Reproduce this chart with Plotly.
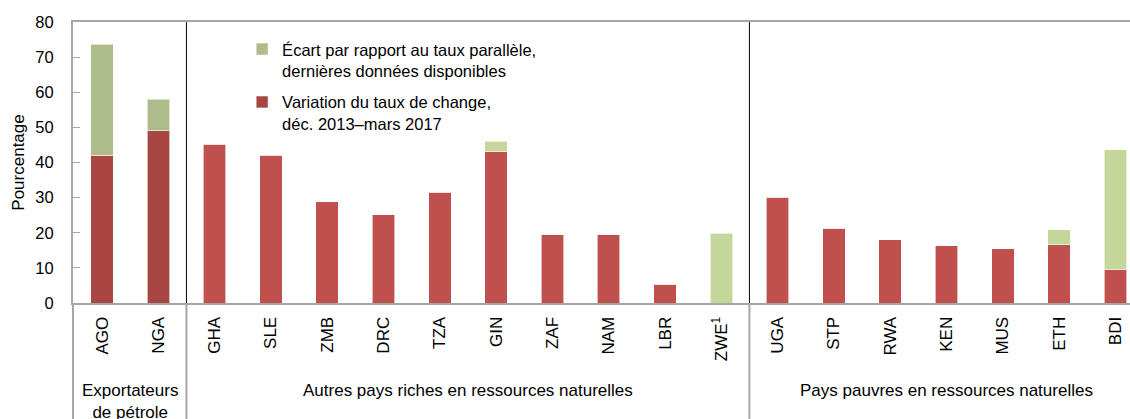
import plotly.graph_objects as go

categories = ["AGO", "NGA", "GHA", "SLE", "ZMB", "DRC", "TZA", "GIN", "ZAF", "NAM",
              "LBR", "ZWE<sup>1</sup>", "UGA", "STP", "RWA", "KEN", "MUS", "ETH", "BDI"]
variation = [42.0, 49.0, 45.2, 42.0, 28.8, 25.1, 31.6, 43.0, 19.4, 19.4,
             5.3, 0.0, 30.1, 21.3, 18.0, 16.3, 15.4, 16.6, 9.6]
ecart = [31.6, 9.0, 0, 0, 0, 0, 0, 3.1, 0, 0,
         0, 19.9, 0, 0, 0, 0, 0, 4.3, 34.0]
groups = ["Exportateurs<br>de pétrole",
          "Autres pays riches en ressources naturelles",
          "Pays pauvres en ressources naturelles"]
group_sizes = [2, 10, 7]
y_ticks = [0, 10, 20, 30, 40, 50, 60, 70, 80]

FONT = "Liberation Sans, Arial, sans-serif"
FS = 16.5
red_oil, green_oil = "#A84643", "#ADBC8A"
red_other, green_other = "#C0504D", "#C4D79B"

n_oil = group_sizes[0]
red_colors = [red_oil if i < n_oil else red_other for i in range(len(categories))]
green_colors = [green_oil if i < n_oil else green_other for i in range(len(categories))]

fig = go.Figure()
fig.add_trace(go.Bar(
    x=categories, y=variation, name="Variation du taux de change,<br>déc. 2013–mars 2017",
    marker=dict(color=red_colors, line=dict(color="rgba(255,255,255,0.6)", width=1)),
    width=0.4, legendgroup="b", legendrank=2))
fig.add_trace(go.Bar(
    x=categories, y=ecart, name="Écart par rapport au taux parallèle,<br>dernières données disponibles",
    marker=dict(color=green_colors, line=dict(color="rgba(255,255,255,0.6)", width=1)),
    width=0.4, legendgroup="a", legendrank=1))

shapes = []
annotations = []
start = 0
for gi, (g, size) in enumerate(zip(groups, group_sizes)):
    center = start + (size - 1) / 2
    annotations.append(dict(x=center, y=-0.27, xref="x", yref="paper", text=g,
                            showarrow=False, yanchor="top", xanchor="center",
                            font=dict(family=FONT, size=FS + 0.5, color="#000")))
    if gi > 0:
        sep = start - 0.5
        shapes.append(dict(type="line", xref="x", yref="y", x0=sep, x1=sep,
                           y0=0, y1=y_ticks[-1], line=dict(color="#000", width=1)))
        shapes.append(dict(type="line", xref="x", yref="paper", x0=sep, x1=sep,
                           y0=0, y1=-0.45, line=dict(color="#A6A6A6", width=2)))
    start += size
shapes.append(dict(type="line", xref="paper", yref="paper", x0=0, x1=0,
                   y0=0, y1=-0.45, line=dict(color="#A6A6A6", width=2)))

fig.update_layout(
    width=1130, height=419,
    margin=dict(l=73, r=0, t=22, b=116),
    paper_bgcolor="white", plot_bgcolor="white",
    barmode="stack", bargap=0.6,
    font=dict(family=FONT, size=FS, color="#000"),
    showlegend=True,
    legend=dict(x=0.16, y=0.965, xanchor="left", yanchor="top",
                bgcolor="rgba(0,0,0,0)", valign="top", tracegroupgap=7,
                font=dict(family=FONT, size=FS, color="#000"),
                traceorder="grouped"),
    xaxis=dict(type="category", range=[-0.515, 18.26], tickangle=-90,
               showline=True, linecolor="#A6A6A6", linewidth=2, mirror=True,
               ticks="", showgrid=False, ticklabelstandoff=5,
               tickfont=dict(family=FONT, size=FS + 0.5, color="#000")),
    yaxis=dict(range=[0, 80], tickvals=y_ticks, showline=True, linecolor="#A6A6A6",
               linewidth=2, ticks="inside", ticklen=7, tickcolor="#A6A6A6",
               showgrid=False, zeroline=False, ticklabelstandoff=14,
               title=dict(text="Pourcentage", standoff=6,
                          font=dict(family=FONT, size=FS + 0.5, color="#000")),
               tickfont=dict(family=FONT, size=FS, color="#000")),
    shapes=shapes, annotations=annotations,
)

fig.write_html("out.html", config={"displayModeBar": False},
               post_script="document.body.style.margin='0';")
